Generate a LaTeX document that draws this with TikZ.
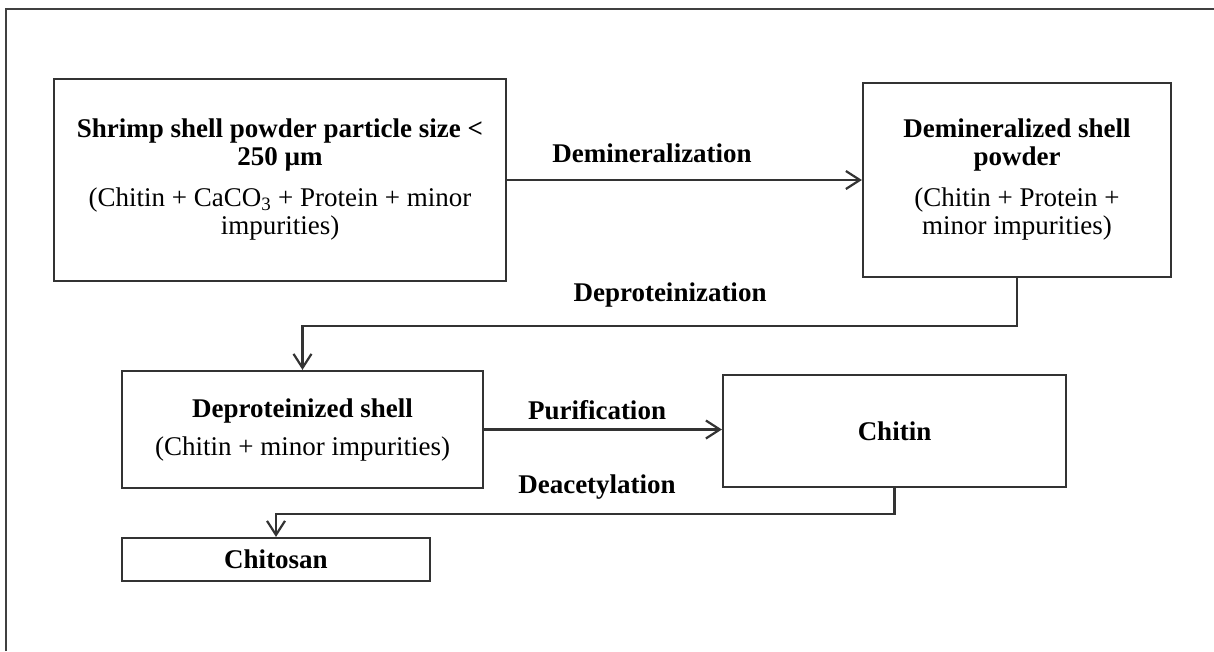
\documentclass[tikz,border=0pt]{standalone}
\usepackage{fontspec}
\setmainfont{Liberation Serif}
\usetikzlibrary{arrows.meta}
\begin{document}
\begin{tikzpicture}[x=1pt,y=-1pt,
  box/.style={draw=black!80, line width=2.2pt, inner sep=0pt, align=center,
    font=\fontsize{27}{28}\selectfont},
  lbl/.style={font=\fontsize{27}{28}\selectfont\bfseries, inner sep=0pt},
  arr/.style={draw=black!80, line width=2.2pt,
    -{Straight Barb[length=14pt,width=18pt,line width=2.2pt]}},
  frame/.style={draw=black!75, line width=2pt}]
\useasboundingbox (0,0) rectangle (1214,651);
\draw[frame] (6,651) -- (6,9) -- (1214,9);

\node[box, minimum width=452pt, minimum height=202pt] (shell) at (280,180)
  {\textbf{Shrimp shell powder particle size <}\\\textbf{250 µm}\\[13pt]
   (Chitin + CaCO\textsubscript{3} + Protein + minor\\impurities)};
\node[box, minimum width=308pt, minimum height=194pt] (demin) at (1017,180)
  {\textbf{Demineralized shell}\\\textbf{powder}\\[13pt]
   (Chitin + Protein +\\minor impurities)};
\node[box, minimum width=361pt, minimum height=117pt] (deprot) at (302.5,429.5)
  {\textbf{Deproteinized shell}\\[10pt](Chitin + minor impurities)};
\node[box, minimum width=343pt, minimum height=112pt] (chitin) at (894.5,431)
  {\textbf{Chitin}};
\node[box, minimum width=308pt, minimum height=43pt] (chitosan) at (276,559.5)
  {\textbf{Chitosan}};

\node[lbl] (l1) at (652,153) {Demineralization};
\node[lbl] (l2) at (670,295) {Deproteinization};
\node[lbl] (l3) at (597,410) {Purification};
\node[lbl] (l4) at (597,487) {Deacetylation};

\draw[arr] (shell.east) -- (demin.west);
\draw[arr] (demin.south) -- ++(0,48) -| (deprot.north);
\draw[arr] (deprot.east) -- (deprot.east -| chitin.west);
\draw[arr] (chitin.south) -- ++(0,26) -| (chitosan.north);
\end{tikzpicture}
\end{document}
